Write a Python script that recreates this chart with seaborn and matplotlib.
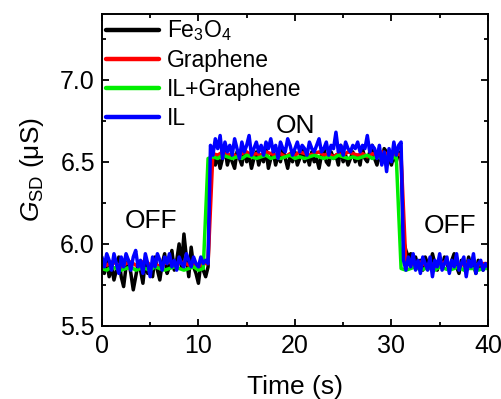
import numpy as np
import pandas as pd
import matplotlib
matplotlib.use("Agg")
import matplotlib.pyplot as plt
from matplotlib.ticker import MultipleLocator
import seaborn as sns

# time grids (s)
t_fine = np.arange(0, 40.01, 0.25)
t_coarse = np.arange(0, 40.01, 0.5)

g_fe3o4 = [
    5.88, 5.82, 5.90, 5.80, 5.86, 5.78, 5.84, 5.92, 5.80, 5.74, 5.86, 5.90, 5.82, 5.72, 5.80, 5.88, 5.84, 5.76, 5.90, 5.82,
    5.86, 5.80, 5.92, 5.84, 5.78, 5.88, 5.94, 5.82, 5.86, 5.96, 5.84, 5.90, 6.00, 5.86, 6.06, 5.92, 5.80, 5.98, 5.86, 5.82,
    5.76, 5.88, 5.84, 5.80, 5.86,
    6.50, 6.56, 6.48, 6.54, 6.46, 6.52, 6.58, 6.48, 6.54, 6.50, 6.46, 6.56, 6.52, 6.48, 6.58, 6.50, 6.54, 6.46, 6.52, 6.56,
    6.48, 6.54, 6.50, 6.58, 6.46, 6.52, 6.56, 6.48, 6.54, 6.50, 6.58, 6.52, 6.46, 6.54, 6.50, 6.56, 6.48, 6.52, 6.58, 6.50,
    6.54, 6.48, 6.56, 6.50, 6.52, 6.46, 6.54, 6.58, 6.50, 6.48, 6.56, 6.52, 6.54, 6.48, 6.60, 6.50, 6.54, 6.48, 6.52, 6.56,
    6.50, 6.54, 6.48, 6.58, 6.52, 6.50, 6.56, 6.60, 6.52, 6.48, 6.54, 6.50, 6.58, 6.56, 6.52, 6.48, 6.54, 6.50, 6.56, 6.52,
    6.02, 5.96, 5.92, 5.94, 5.88, 5.92, 5.86, 5.90, 5.84, 5.92, 5.88, 5.86, 5.94, 5.88, 5.84, 5.90, 5.86, 5.92, 5.88, 5.84,
    5.90, 5.94, 5.86, 5.82, 5.90, 5.88, 5.84, 5.92, 5.86, 5.88, 5.82, 5.90, 5.86, 5.84, 5.88, 5.86,
]

g_il = [
    5.92, 5.86, 5.94, 5.90, 5.84, 5.94, 5.88, 5.82, 5.92, 5.86, 5.94, 5.90, 5.84, 5.92, 5.96, 5.86, 5.90, 5.82, 5.94, 5.88,
    5.80, 5.92, 5.86, 5.94, 5.90, 5.84, 5.92, 5.88, 5.94, 5.86, 5.90, 5.84, 5.92, 5.88, 5.86, 5.94, 5.90, 5.86, 5.92, 5.88,
    5.86, 5.92, 5.88, 5.90, 5.88,
    6.60, 6.54, 6.64, 6.58, 6.66, 6.52, 6.62, 6.56, 6.60, 6.54, 6.64, 6.58, 6.52, 6.62, 6.56, 6.60, 6.66, 6.54, 6.58, 6.62,
    6.56, 6.60, 6.54, 6.62, 6.58, 6.64, 6.56, 6.60, 6.52, 6.62, 6.58, 6.56, 6.64, 6.60, 6.54, 6.58, 6.62, 6.56, 6.60, 6.58,
    6.54, 6.62, 6.58, 6.56, 6.60, 6.64, 6.56, 6.58, 6.62, 6.54, 6.60, 6.58, 6.68, 6.56, 6.60, 6.54, 6.62, 6.58, 6.56, 6.60,
    6.58, 6.62, 6.56, 6.60, 6.58, 6.66, 6.56, 6.60, 6.58, 6.52, 6.60, 6.48, 6.56, 6.44, 6.58, 6.50, 6.62, 6.54, 6.60, 6.62,
    5.90, 5.84, 5.92, 5.86, 5.94, 5.84, 5.90, 5.82, 5.92, 5.88, 5.84, 5.92, 5.80, 5.90, 5.86, 5.94, 5.84, 5.88, 5.92, 5.82,
    5.90, 5.86, 5.94, 5.84, 5.88, 5.92, 5.80, 5.90, 5.86, 5.94, 5.82, 5.88, 5.90, 5.84, 5.88, 5.86,
]

g_graphene = [
    5.88, 5.87, 5.89, 5.88, 5.86, 5.88, 5.89, 5.87, 5.88, 5.90, 5.87, 5.88, 5.86, 5.88, 5.89, 5.87, 5.88, 5.89, 5.87, 5.88,
    5.86, 5.88, 5.88,
    6.55, 6.54, 6.56, 6.54, 6.55, 6.53, 6.55, 6.56, 6.54, 6.55, 6.54, 6.56, 6.55, 6.54, 6.55, 6.53, 6.55, 6.54, 6.56, 6.55,
    6.54, 6.55, 6.56, 6.54, 6.55, 6.53, 6.55, 6.54, 6.56, 6.55, 6.54, 6.55, 6.53, 6.55, 6.54, 6.56, 6.55, 6.54, 6.55, 6.54,
    5.88, 5.87, 5.88, 5.89, 5.87, 5.88, 5.86, 5.88, 5.89, 5.87, 5.88, 5.88, 5.87, 5.89, 5.88, 5.87, 5.88, 5.88,
]

g_il_graphene = [
    5.85, 5.84, 5.86, 5.85, 5.84, 5.85, 5.86, 5.84, 5.85, 5.85, 5.84, 5.86, 5.85, 5.84, 5.85, 5.86, 5.85, 5.84, 5.85, 5.86,
    5.84, 5.85,
    6.52, 6.53, 6.52, 6.54, 6.53, 6.52, 6.53, 6.52, 6.54, 6.53, 6.52, 6.53, 6.54, 6.52, 6.53, 6.52, 6.53, 6.54, 6.52, 6.53,
    6.52, 6.53, 6.54, 6.53, 6.52, 6.53, 6.52, 6.54, 6.53, 6.52, 6.53, 6.52, 6.53, 6.54, 6.52, 6.53, 6.52, 6.53, 6.52, 6.53,
    5.85, 5.84, 5.85, 5.86, 5.84, 5.85, 5.85, 5.84, 5.86, 5.85, 5.84, 5.85, 5.86, 5.84, 5.85, 5.85, 5.84, 5.85, 5.85,
]

sns.set_style("ticks")
plt.rcParams["font.family"] = ["Liberation Sans", "DejaVu Sans"]
plt.rcParams["mathtext.fontset"] = "custom"
plt.rcParams["mathtext.rm"] = "Liberation Sans"
plt.rcParams["mathtext.it"] = "Liberation Sans:italic"
for k in ["text.color", "axes.labelcolor", "xtick.color", "ytick.color", "axes.edgecolor"]:
    plt.rcParams[k] = "black"

fig = plt.figure(figsize=(5.02, 3.99), dpi=100)
ax = fig.add_axes([0.203, 0.183, 0.769, 0.782])

lw = 2.5
sns.lineplot(x=t_fine, y=g_fe3o4, ax=ax, color="black", lw=lw, label="Fe$_3$O$_4$")
sns.lineplot(x=t_coarse, y=g_graphene, ax=ax, color="#ff0000", lw=lw, label="Graphene")
sns.lineplot(x=t_coarse, y=g_il_graphene, ax=ax, color="#00ee00", lw=lw, label="IL+Graphene")
sns.lineplot(x=t_fine, y=g_il, ax=ax, color="#0000ff", lw=lw, label="IL")

ax.set_xlim(0, 40)
ax.set_ylim(5.5, 7.4)
ax.xaxis.set_major_locator(MultipleLocator(10))
ax.xaxis.set_minor_locator(MultipleLocator(5))
ax.yaxis.set_major_locator(MultipleLocator(0.5))
ax.yaxis.set_minor_locator(MultipleLocator(0.25))
ax.tick_params(which="both", direction="in", top=True, right=True, width=1.3, labelsize=18)
ax.tick_params(which="major", length=5)
ax.tick_params(which="minor", length=3)
ax.tick_params(axis="x", pad=6)
ax.tick_params(axis="y", pad=5)
for s in ax.spines.values():
    s.set_linewidth(1.4)

ax.set_xlabel("Time (s)", fontsize=19, labelpad=12)
ax.set_ylabel(r"$G_{\mathrm{SD}}$ (μS)", fontsize=19, labelpad=10)

ax.text(5.1, 6.14, "OFF", fontsize=19, ha="center", va="center")
ax.text(20.1, 6.72, "ON", fontsize=19, ha="center", va="center")
ax.text(36.1, 6.11, "OFF", fontsize=19, ha="center", va="center")

leg = ax.legend(loc="upper left", frameon=False, fontsize=16.5, handlelength=2.3,
                handletextpad=0.35, labelspacing=0.25, borderaxespad=0.1,
                borderpad=0.1)
for h in leg.get_lines():
    h.set_linewidth(3.2)

fig.savefig("out.png", dpi=100)
